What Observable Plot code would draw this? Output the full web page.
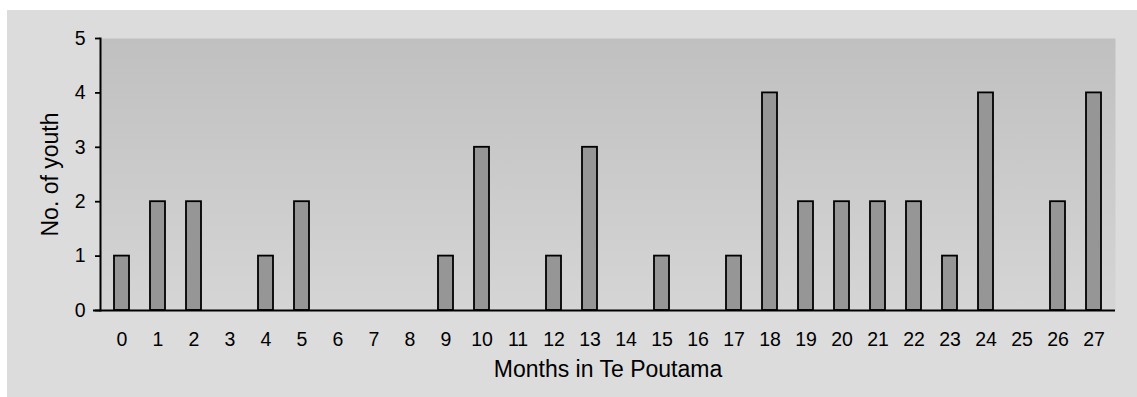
<!DOCTYPE html>
<html>
<head>
<meta charset="utf-8">
<script src="https://cdn.jsdelivr.net/npm/d3@7"></script>
<script src="https://cdn.jsdelivr.net/npm/@observablehq/plot@0.6"></script>
<style>
  html, body { margin: 0; padding: 0; background: #ffffff; }
  #panel {
    position: absolute; left: 7px; top: 10px;
    width: 1130px; height: 387px;
    background: #dcdcdc;
  }
  #panel svg { background: transparent; display: block; }
</style>
</head>
<body>
<div id="panel"></div>
<script>
// Months spent in the programme, and how many youth were at each length of stay
const months = [0, 1, 2, 3, 4, 5, 6, 7, 8, 9, 10, 11, 12, 13, 14, 15, 16, 17, 18, 19, 20, 21, 22, 23, 24, 25, 26, 27];
const youthCounts = [1, 2, 2, 0, 1, 2, 0, 0, 0, 1, 3, 0, 1, 3, 0, 1, 0, 1, 4, 2, 2, 2, 2, 1, 4, 0, 2, 4];
const yTicks = [0, 1, 2, 3, 4, 5];
const xTitle = "Months in Te Poutama";
const yTitle = "No. of youth";

const rows = months.map((m, i) => ({month: m, count: youthCounts[i]}));
const font = '"Liberation Sans", Arial, Helvetica, sans-serif';

const chart = Plot.plot({
  width: 1130,
  height: 387,
  marginLeft: 93,
  marginRight: 22,
  marginTop: 28,
  marginBottom: 87,
  style: {fontFamily: font, background: "transparent", color: "#000"},
  x: {type: "band", domain: months, paddingInner: 0.59, paddingOuter: 0.295, label: null},
  y: {domain: [0, 5], label: null},
  marks: [
    // shaded plotting area
    Plot.frame({fill: "url(#plotShade)", stroke: null}),
    Plot.barY(rows.filter(d => d.count > 0), {
      x: "month", y: "count",
      fill: "#969696", stroke: "#000", strokeWidth: 1.8
    }),
    Plot.axisY({ticks: yTicks, tickSize: 5, tickPadding: 10, fontSize: 19.5, strokeWidth: 1.8, tickFormat: d3.format("d")}),
    Plot.axisX({tickSize: 0, tickPadding: 22, fontSize: 19.5}),
    Plot.frame({anchor: "left", strokeWidth: 2}),
    Plot.ruleY([0], {insetLeft: -7, strokeWidth: 2}),
    Plot.text([xTitle], {frameAnchor: "bottom", dy: 66, fontSize: 23, text: d => d}),
    Plot.text([yTitle], {frameAnchor: "left", textAnchor: "middle", dx: -50, rotate: -90, fontSize: 23, text: d => d})
  ]
});

// vertical shading for the plotting area: darker at the top, lighter near the baseline
const ns = "http://www.w3.org/2000/svg";
const defs = document.createElementNS(ns, "defs");
const grad = document.createElementNS(ns, "linearGradient");
grad.setAttribute("id", "plotShade");
grad.setAttribute("x1", "0"); grad.setAttribute("y1", "0");
grad.setAttribute("x2", "0"); grad.setAttribute("y2", "1");
[["0%", "#c0c0c0"], ["100%", "#d5d5d5"]].forEach(([o, c]) => {
  const s = document.createElementNS(ns, "stop");
  s.setAttribute("offset", o);
  s.setAttribute("stop-color", c);
  grad.appendChild(s);
});
defs.appendChild(grad);
chart.insertBefore(defs, chart.firstChild);

document.getElementById("panel").appendChild(chart);
</script>
</body>
</html>
